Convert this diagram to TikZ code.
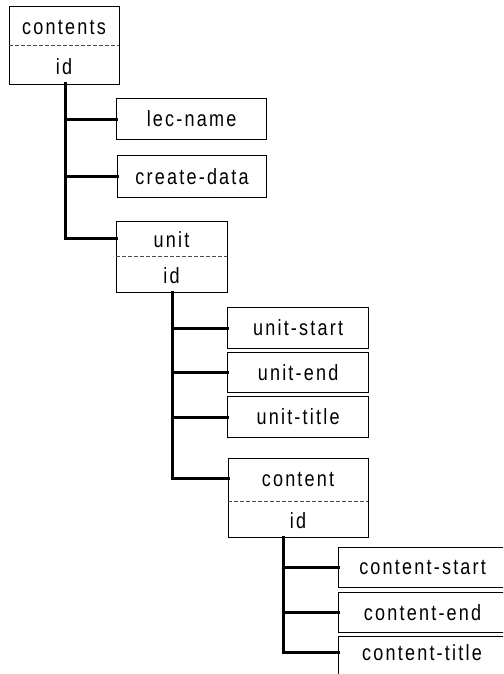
\documentclass[tikz,border=0pt]{standalone}
\usepackage{fontspec}
\setmainfont{Liberation Sans}[FakeStretch=0.82,LetterSpace=10]
\begin{document}
\begin{tikzpicture}[x=1pt,y=-1pt,
  box/.style={draw,line width=1.2pt,inner sep=0pt,anchor=north west},
  lbl/.style={font=\fontsize{22}{22}\selectfont,inner sep=0pt},
  link/.style={line width=3pt,line cap=rect},
  sep/.style={draw=black!70,line width=0.6pt,dash pattern=on 4pt off 2pt}]
\useasboundingbox (0,0) rectangle (503,674);
\clip (0,0) rectangle (503,674);

% entity boxes with a dashed separator between name and key
\node[box,minimum width=110pt,minimum height=78pt] (contents) at (9,6) {};
\draw[sep] (9,45) -- (119,45);
\node[lbl] at (64,27) {contents};
\node[lbl] at (64,67) {id};

\node[box,minimum width=111pt,minimum height=71pt] (unit) at (116,221) {};
\draw[sep] (116,256) -- (227,256);
\node[lbl] at (171.5,240) {unit};
\node[lbl] at (171.5,276) {id};

\node[box,minimum width=140pt,minimum height=79pt] (content) at (228,458) {};
\draw[sep] (228,501) -- (368,501);
\node[lbl] at (298,479) {content};
\node[lbl] at (298,521) {id};

% attribute boxes
\node[box,minimum width=150pt,minimum height=41pt,lbl] (lecname) at (116,98) {lec-name};
\node[box,minimum width=149pt,minimum height=42pt,lbl] (createdata) at (117,155) {create-data};

\node[box,minimum width=141pt,minimum height=41pt,lbl] (ustart) at (227,307) {unit-start};
\node[box,minimum width=141pt,minimum height=40pt,lbl] (uend) at (227,352) {unit-end};
\node[box,minimum width=141pt,minimum height=41pt,lbl] (utitle) at (227,396) {unit-title};

\node[box,minimum width=168pt,minimum height=40pt,lbl] (cstart) at (338,547) {content-start};
\node[box,minimum width=168pt,minimum height=40pt,lbl] (cend) at (338,592) {content-end};
\node[box,minimum width=168pt,minimum height=44pt] (ctitle) at (338,636) {};
\node[lbl] at (422,653) {content-title};

% tree connectors
\coordinate (t1) at (65,84);
\coordinate (t2) at (172,292);
\coordinate (t3) at (283,537);
\draw[link] (t1) |- (lecname.west);
\draw[link] (t1) |- (createdata.west);
\draw[link] (t1) |- (unit.north west |- 0,238);
\draw[link] (t2) |- (ustart.west);
\draw[link] (t2) |- (uend.west);
\draw[link] (t2) |- (utitle.west);
\draw[link] (t2) |- (content.north west |- 0,478);
\draw[link] (t3) |- (cstart.west);
\draw[link] (t3) |- (cend.west);
\draw[link] (t3) |- (ctitle.north west |- 0,652);
\end{tikzpicture}
\end{document}
